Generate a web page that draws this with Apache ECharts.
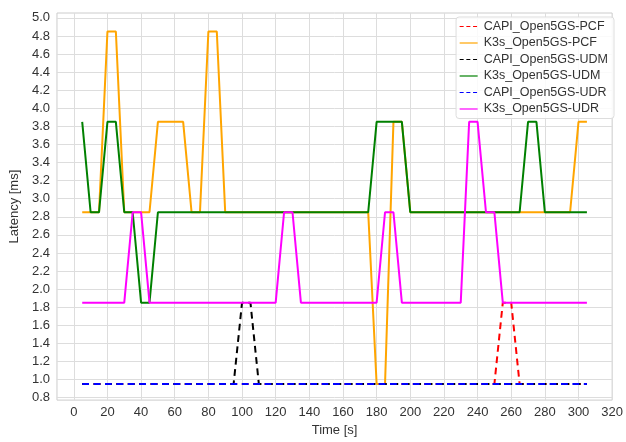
<!DOCTYPE html>
<html>
<head>
<meta charset="utf-8">
<script src="https://cdn.jsdelivr.net/npm/echarts@6/dist/echarts.min.js"></script>
<style>
html,body{margin:0;padding:0;background:#fff;}
#c{width:626px;height:442px;}
</style>
</head>
<body>
<div id="c"></div>
<script>
// Time points (s)
const times = [];
for (let t = 5; t <= 305; t += 5) times.push(t);

// Series values, one per time point (5..305 step 5)
const capiPCF = [
  0.95,0.95,0.95,0.95,0.95,0.95,0.95,0.95,0.95,0.95, // 5-50
  0.95,0.95,0.95,0.95,0.95,0.95,0.95,0.95,0.95,0.95, // 55-100
  0.95,0.95,0.95,0.95,0.95,0.95,0.95,0.95,0.95,0.95, // 105-150
  0.95,0.95,0.95,0.95,0.95,0.95,0.95,0.95,0.95,0.95, // 155-200
  0.95,0.95,0.95,0.95,0.95,0.95,0.95,0.95,0.95,0.95, // 205-250
  1.85,1.85,0.95,0.95,0.95,0.95,0.95,0.95,0.95,0.95, // 255-300
  0.95 // 305
];
const k3sPCF = [
  2.85,2.85,2.85,4.85,4.85,2.85,2.85,2.85,2.85,3.85, // 5-50
  3.85,3.85,3.85,2.85,2.85,4.85,4.85,2.85,2.85,2.85, // 55-100
  2.85,2.85,2.85,2.85,2.85,2.85,2.85,2.85,2.85,2.85, // 105-150
  2.85,2.85,2.85,2.85,2.85,0.95,0.95,3.85,3.85,2.85, // 155-200
  2.85,2.85,2.85,2.85,2.85,2.85,2.85,2.85,2.85,2.85, // 205-250
  2.85,2.85,2.85,2.85,2.85,2.85,2.85,2.85,2.85,3.85, // 255-300
  3.85 // 305
];
const capiUDM = [
  0.95,0.95,0.95,0.95,0.95,0.95,0.95,0.95,0.95,0.95, // 5-50
  0.95,0.95,0.95,0.95,0.95,0.95,0.95,0.95,0.95,1.85, // 55-100
  1.85,0.95,0.95,0.95,0.95,0.95,0.95,0.95,0.95,0.95, // 105-150
  0.95,0.95,0.95,0.95,0.95,0.95,0.95,0.95,0.95,0.95, // 155-200
  0.95,0.95,0.95,0.95,0.95,0.95,0.95,0.95,0.95,0.95, // 205-250
  0.95,0.95,0.95,0.95,0.95,0.95,0.95,0.95,0.95,0.95, // 255-300
  0.95 // 305
];
const k3sUDM = [
  3.85,2.85,2.85,3.85,3.85,2.85,2.85,1.85,1.85,2.85, // 5-50
  2.85,2.85,2.85,2.85,2.85,2.85,2.85,2.85,2.85,2.85, // 55-100
  2.85,2.85,2.85,2.85,2.85,2.85,2.85,2.85,2.85,2.85, // 105-150
  2.85,2.85,2.85,2.85,2.85,3.85,3.85,3.85,3.85,2.85, // 155-200
  2.85,2.85,2.85,2.85,2.85,2.85,2.85,2.85,2.85,2.85, // 205-250
  2.85,2.85,2.85,3.85,3.85,2.85,2.85,2.85,2.85,2.85, // 255-300
  2.85 // 305
];
const capiUDR = [
  0.95,0.95,0.95,0.95,0.95,0.95,0.95,0.95,0.95,0.95,
  0.95,0.95,0.95,0.95,0.95,0.95,0.95,0.95,0.95,0.95,
  0.95,0.95,0.95,0.95,0.95,0.95,0.95,0.95,0.95,0.95,
  0.95,0.95,0.95,0.95,0.95,0.95,0.95,0.95,0.95,0.95,
  0.95,0.95,0.95,0.95,0.95,0.95,0.95,0.95,0.95,0.95,
  0.95,0.95,0.95,0.95,0.95,0.95,0.95,0.95,0.95,0.95,
  0.95
];
const k3sUDR = [
  1.85,1.85,1.85,1.85,1.85,1.85,2.85,2.85,1.85,1.85, // 5-50
  1.85,1.85,1.85,1.85,1.85,1.85,1.85,1.85,1.85,1.85, // 55-100
  1.85,1.85,1.85,1.85,2.85,2.85,1.85,1.85,1.85,1.85, // 105-150
  1.85,1.85,1.85,1.85,1.85,1.85,2.85,2.85,1.85,1.85, // 155-200
  1.85,1.85,1.85,1.85,1.85,1.85,3.85,3.85,2.85,2.85, // 205-250
  1.85,1.85,1.85,1.85,1.85,1.85,1.85,1.85,1.85,1.85, // 255-300
  1.85 // 305
];

const seriesNames = ['CAPI_Open5GS-PCF','K3s_Open5GS-PCF','CAPI_Open5GS-UDM','K3s_Open5GS-UDM','CAPI_Open5GS-UDR','K3s_Open5GS-UDR'];
const seriesValues = [capiPCF, k3sPCF, capiUDM, k3sUDM, capiUDR, k3sUDR];
const seriesColors = ['#ff0000','#ffa500','#000000','#008000','#0000ff','#ff00ff'];
const seriesDashed = [true,false,true,false,true,false];

const xTicks = [0,20,40,60,80,100,120,140,160,180,200,220,240,260,280,300,320];
const yTicks = [0.8,1.0,1.2,1.4,1.6,1.8,2.0,2.2,2.4,2.6,2.8,3.0,3.2,3.4,3.6,3.8,4.0,4.2,4.4,4.6,4.8,5.0];

const FONT = '"Liberation Sans", Arial, sans-serif';
const TXT = '#333333';

const chart = echarts.init(document.getElementById('c'), null, {renderer:'canvas'});
chart.setOption({
  animation: false,
  backgroundColor: '#ffffff',
  textStyle: {fontFamily: FONT},
  grid: {left: 51, right: 10, top: 13, bottom: 35, show: true, borderColor: '#cccccc', borderWidth: 1, containLabel: false},
  legend: {
    orient: 'vertical',
    right: 12,
    top: 17,
    itemWidth: 18,
    itemHeight: 10,
    itemGap: 3.5,
    padding: [3, 6, 3, 3],
    backgroundColor: 'rgba(255,255,255,0.85)',
    borderColor: '#dddddd',
    borderWidth: 1,
    borderRadius: 3,
    itemStyle: {opacity: 0},
    textStyle: {fontFamily: FONT, fontSize: 12.5, color: TXT, lineHeight: 13, padding: [0, 0, 0, 1]},
    data: seriesNames.map((n, i) => ({name: n, lineStyle: {width: 1.2, type: seriesDashed[i] ? [4, 2.7] : 'solid'}}))
  },
  xAxis: {
    type: 'value', min: -10, max: 320,
    name: 'Time [s]', nameLocation: 'middle', nameGap: 22,
    nameTextStyle: {fontFamily: FONT, fontSize: 13, color: TXT},
    axisLine: {show: false},
    axisTick: {show: false, customValues: xTicks},
    axisLabel: {customValues: xTicks, fontFamily: FONT, fontSize: 13, color: TXT, margin: 6, formatter: v => String(Math.round(v))},
    splitLine: {show: true, lineStyle: {color: '#dddddd', width: 1}}
  },
  yAxis: {
    type: 'value', min: 0.772, max: 5.054,
    name: 'Latency [ms]', nameLocation: 'middle', nameGap: 30,
    nameTextStyle: {fontFamily: FONT, fontSize: 13, color: TXT},
    axisLine: {show: false},
    axisTick: {show: false, customValues: yTicks},
    axisLabel: {customValues: yTicks, fontFamily: FONT, fontSize: 13, color: TXT, margin: 7, formatter: v => v.toFixed(1)},
    splitLine: {show: true, lineStyle: {color: '#dddddd', width: 1}}
  },
  series: seriesNames.map((n, i) => ({
    name: n,
    type: 'line',
    symbol: 'none',
    data: times.map((t, k) => [t, seriesValues[i][k]]),
    lineStyle: {color: seriesColors[i], width: 2, type: seriesDashed[i] ? [6.8, 4.6] : 'solid'},
    itemStyle: {color: seriesColors[i]},
    z: 2 + i
  }))
});
</script>
</body>
</html>
